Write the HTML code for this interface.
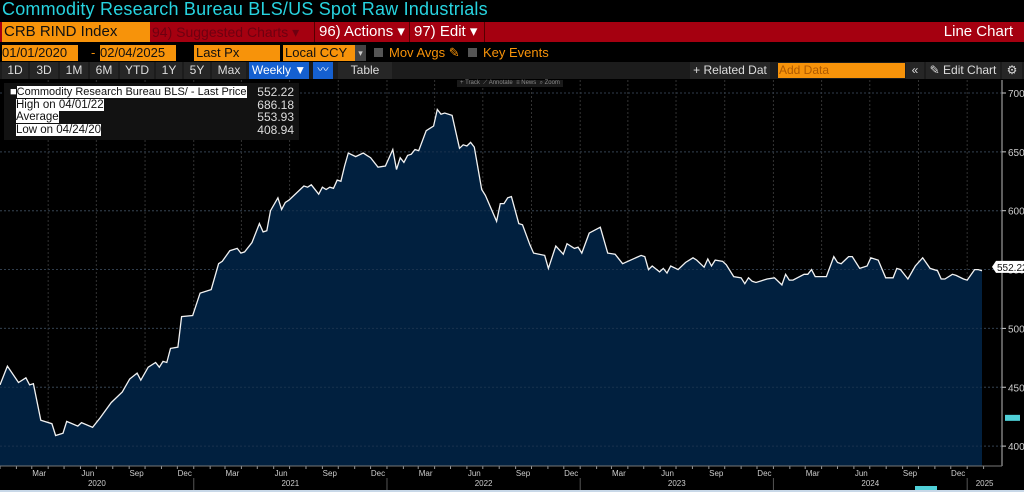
<!DOCTYPE html>
<html><head><meta charset="utf-8">
<style>
body{margin:0;background:#000;width:1024px;height:492px;overflow:hidden;font-family:"Liberation Sans",sans-serif;position:relative}
.a{position:absolute;white-space:nowrap}
.btn{position:absolute;top:62px;height:17px;background:#262626;color:#ddd;font-size:12px;line-height:17px;text-align:center}
</style></head><body>
<div class="a" style="left:2px;top:-1px;font-size:18px;color:#27d3df;letter-spacing:0.2px">Commodity Research Bureau BLS/US Spot Raw Industrials</div>
<div class="a" style="left:0;top:22px;width:1024px;height:20px;background:#a50010"></div>
<div class="a" style="left:2px;top:22px;width:146px;height:20px;background:#f7930a;color:#111;font-size:15px;line-height:20px;padding-left:2px">CRB RIND Index</div>
<div class="a" style="left:152px;top:22px;font-size:14px;line-height:20px;color:#6e0010">94) Suggested Charts ▾</div>
<div class="a" style="left:314px;top:22px;width:93px;height:20px;border-left:1px solid #500;font-size:15px;line-height:20px;color:#fff;padding-left:4px">96) Actions ▾</div>
<div class="a" style="left:409px;top:22px;width:70px;height:20px;border-left:1px solid #500;border-right:1px solid #500;font-size:15px;line-height:20px;color:#fff;padding-left:4px">97) Edit ▾</div>
<div class="a" style="right:11px;top:22px;font-size:15px;line-height:20px;color:#fff">Line Chart</div>

<div class="a" style="left:2px;top:45px;width:76px;height:16px;background:#f7930a;color:#111;font-size:13px;line-height:16px">01/01/2020</div>
<div class="a" style="left:91px;top:45px;color:#f7930a;font-size:13px">-</div>
<div class="a" style="left:100px;top:45px;width:76px;height:16px;background:#f7930a;color:#111;font-size:13px;line-height:16px">02/04/2025</div>
<div class="a" style="left:194px;top:45px;width:84px;height:16px;background:#f7930a;color:#111;font-size:13px;line-height:16px;padding-left:2px">Last Px</div>
<div class="a" style="left:283px;top:45px;width:70px;height:16px;background:#f7930a;color:#111;font-size:13px;line-height:16px;padding-left:2px">Local CCY</div>
<div class="a" style="left:355px;top:45px;width:11px;height:16px;background:#444;color:#ccc;font-size:9px;line-height:16px;text-align:center">▾</div>
<div class="a" style="left:374px;top:48px;width:9px;height:9px;background:#555"></div>
<div class="a" style="left:389px;top:45px;color:#f7930a;font-size:13px;line-height:16px">Mov Avgs ✎</div>
<div class="a" style="left:468px;top:48px;width:9px;height:9px;background:#555"></div>
<div class="a" style="left:483px;top:45px;color:#f7930a;font-size:13px;line-height:16px">Key Events</div>

<div class="a" style="left:0;top:62px;width:1024px;height:17px;background:#1c1c1c"></div>
<div class="btn" style="left:2px;width:26px">1D</div>
<div class="btn" style="left:30px;width:28px">3D</div>
<div class="btn" style="left:60px;width:28px">1M</div>
<div class="btn" style="left:90px;width:28px">6M</div>
<div class="btn" style="left:120px;width:34px">YTD</div>
<div class="btn" style="left:156px;width:26px">1Y</div>
<div class="btn" style="left:184px;width:26px">5Y</div>
<div class="btn" style="left:212px;width:34px">Max</div>
<div class="btn" style="left:249px;width:60px;background:#1560d0;color:#fff">Weekly ▼</div>
<div class="btn" style="left:313px;width:20px;background:#1560d0;color:#fff;font-size:11px">〰</div>
<div class="btn" style="left:338px;width:54px">Table</div>
<div class="btn" style="left:690px;width:80px">+ Related Dat</div>
<div class="a" style="left:778px;top:63px;width:126px;height:15px;background:#f7930a;color:#b05a00;font-size:12px;line-height:15px;padding-left:1px">Add Data</div>
<div class="btn" style="left:906px;width:18px">«</div>
<div class="btn" style="left:926px;width:74px">✎ Edit Chart</div>
<div class="btn" style="left:1002px;width:20px">⚙</div>

<svg id="chart" class="a" style="left:0;top:80px" width="1024" height="412"></svg>

<div class="a" style="left:4px;top:83px;width:295px;height:57px;background:#121212"></div>
<div class="a" style="left:10px;top:86px;font-size:11px;line-height:12px"><span style="color:#fff">■</span><span style="background:#fff;color:#111">Commodity Research Bureau BLS/ - Last Price</span></div>
<div class="a" style="left:16px;top:99px;font-size:11.5px;line-height:12px;background:#fff;color:#111">High on 04/01/22</div>
<div class="a" style="left:16px;top:111px;font-size:11.5px;line-height:12px;background:#fff;color:#111">Average</div>
<div class="a" style="left:16px;top:124px;font-size:11.5px;line-height:12px;background:#fff;color:#111">Low on 04/24/20</div>
<div class="a" style="left:250px;top:86px;font-size:12px;line-height:12.6px;color:#ddd;text-align:right;width:44px">552.22<br>686.18<br>553.93<br>408.94</div>
<div class="a" style="left:457px;top:80px;font-size:6px;color:#888;background:#1a1a1a;padding:0 3px">+ Track &nbsp;⟋ Annotate &nbsp;≡ News &nbsp;⌕ Zoom</div>

<script>
const weeks=[0,2,5,7,8,9,11,14,15,17,18,21,22,25,27,30,33,35,37,38,40,42,43,44,45,46,48,49,52,54,57,59,60,62,64,65,66,68,70,71,72,73,75,76,77,78,80,82,83,84,86,87,88,89,90,91,92,93,94,96,98,99,100,102,104,106,107,108,109,110,111,112,113,115,117,118,119,120,122,124,125,126,127,128,130,131,134,135,136,137,138,140,141,143,144,147,148,150,152,153,155,156,157,159,162,164,166,168,173,174,175,176,178,179,180,181,183,185,187,188,190,191,192,193,195,196,198,200,201,202,203,204,207,209,211,212,213,214,217,218,219,220,223,225,226,227,229,230,232,234,235,237,239,241,242,243,245,247,249,251,253,254,255,257,258,260,261,263,264,265];
const values=[452,468,454,458,452,453,422,419,409,411,421,417,420,416,424,437,446,457,462,456,467,471,467,472,471,483,484,510,511,530,533,555,557,566,568,564,565,573,589,582,583,600,611,601,607,609,615,621,620,622,614,620,618,620,619,626,625,638,649,646,649,647,645,637,638,652,635,645,641,647,648,652,651,668,672,686,682,683,681,653,656,655,658,654,618,613,591,606,606,611,612,589,588,571,564,562,551,570,563,572,568,569,564,581,586,564,563,555,562,561,550,553,548,551,547,553,550,556,560,558,552,559,553,558,557,554,544,543,538,543,540,539,542,543,537,546,541,541,546,546,550,544,544,561,556,555,561,561,551,553,560,558,543,543,551,550,542,553,560,551,549,542,542,546,545,542,541,550,550,549,552.22];
const yTicks=[400,450,500,550,600,650,700];
const monthNames=["Jan","Feb","Mar","Apr","May","Jun","Jul","Aug","Sep","Oct","Nov","Dec"];
const years=[2020,2021,2022,2023,2024,2025];
const lastValue=552.22;

const NS="http://www.w3.org/2000/svg";
const svg=document.getElementById('chart');
const OY=80, PW=1002, PB=466-OY;
const pxWeek=982/265;
const xW=w=>w*pxWeek;
const x0=new Date(2020,0,1).getTime();
const xD=d=>xW((d.getTime()-x0)/864e5/7);
const y=v=>(93-OY)+(700-v)*1.177;
function mk(t,a,p){const e=document.createElementNS(NS,t);for(const k in a)e.setAttribute(k,a[k]);(p||svg).appendChild(e);return e;}

yTicks.forEach(v=>{
  const l=mk('line',{x1:0,x2:PW,y1:y(v),y2:y(v),stroke:'#3a3a3a','stroke-dasharray':'2,2'});
  
  
  const t=mk('text',{x:PW+6,y:y(v)+4,fill:'#ccc','font-size':10,'font-family':'Liberation Sans'});
  t.textContent=v;
  
  
  mk('line',{x1:PW,x2:PW+4,y1:y(v),y2:y(v),stroke:'#ccc'});
});
for(let yr=2020;yr<=2025;yr++)for(let m=0;m<12;m++){
  const d=new Date(yr,m,1);if(d>new Date(2025,1,10))break;
  const x=xD(d);
  if(m%3==0&&x>2){const g=mk('line',{x1:x,x2:x,y1:0,y2:PB,stroke:'#333','stroke-dasharray':'2,2'});
    }
  mk('line',{x1:x,x2:x,y1:PB,y2:PB+3,stroke:'#999'});
  if(m%3==2){const t=mk('text',{x:xD(new Date(yr,m,15)),y:PB+10,fill:'#ccc','font-size':8,'text-anchor':'middle','font-family':'Liberation Sans'});
    t.textContent=monthNames[m];}
}
const pts=weeks.map((w,i)=>xW(w).toFixed(1)+','+y(values[i]).toFixed(1));
const area=mk('polygon',{points:'0,'+PB+' '+pts.join(' ')+' '+xW(weeks[weeks.length-1]).toFixed(1)+','+PB,fill:'#01203f'});


yTicks.forEach(v=>mk('line',{x1:0,x2:PW,y1:y(v),y2:y(v),stroke:'#2a3f58','stroke-dasharray':'2,2','stroke-opacity':0.6}));
const line=mk('polyline',{points:pts.join(' '),fill:'none',stroke:'#f2f2f2','stroke-width':1.3});


mk('line',{x1:PW,x2:PW,y1:0,y2:PB,stroke:'#bbb'});
mk('line',{x1:0,x2:PW,y1:PB,y2:PB,stroke:'#777'});
years.forEach(yr=>{
  const s=xD(new Date(yr,0,1)),e=Math.min(xD(new Date(yr+1,0,1)),PW);
  if(yr>2020)mk('line',{x1:s,x2:s,y1:PB+12,y2:412,stroke:'#555'});
  const t=mk('text',{x:(s+e)/2,y:PB+20,fill:'#ccc','font-size':8,'text-anchor':'middle','font-family':'Liberation Sans'});
  t.textContent=yr;
  
  
});
const ly=y(lastValue);
const tag=mk('polygon',{points:`${PW-10},${ly} ${PW-6},${ly-6} 1024,${ly-6} 1024,${ly+6} ${PW-6},${ly+6}`,fill:'#fff'});


const lt=mk('text',{x:PW-5,y:ly+4,fill:'#111','font-size':10,'font-family':'Liberation Sans'});
lt.textContent=lastValue.toFixed(2);


mk('rect',{x:1005,y:y(424)-3,width:15,height:6,fill:'#4fd0d8'});
mk('rect',{x:915,y:PB+20,width:22,height:6,fill:'#4fd0d8'});
mk('rect',{x:0,y:410,width:1024,height:2,fill:'#c8d8e8'});
</script>
</body></html>
